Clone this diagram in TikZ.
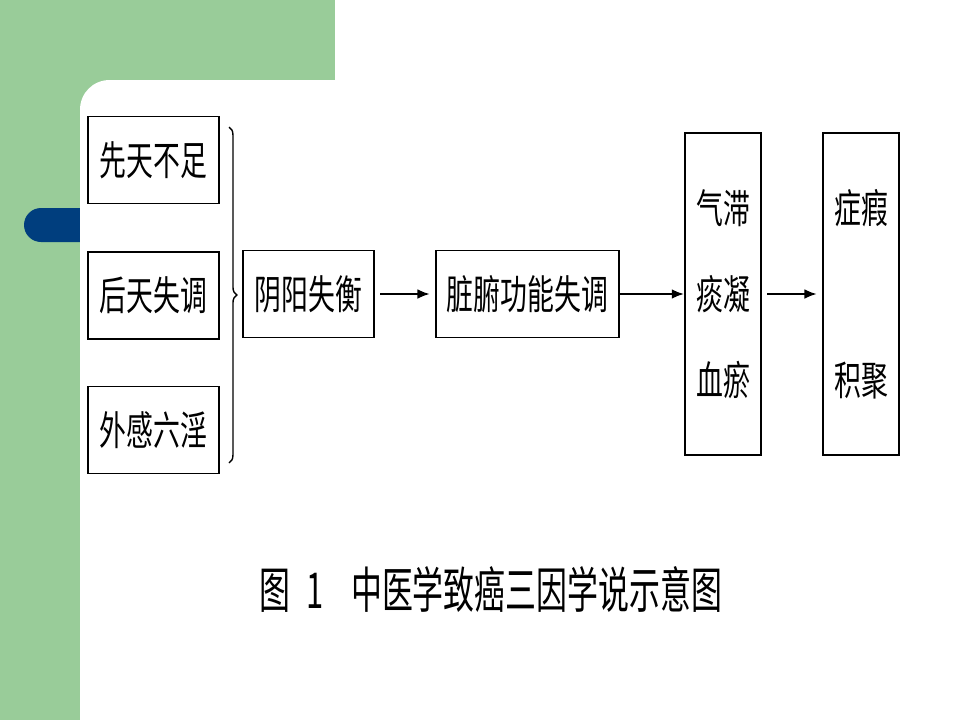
\documentclass[tikz,border=0pt]{standalone}
\usepackage{fontspec}
\usepackage{graphicx}
\usetikzlibrary{arrows.meta,decorations.pathreplacing}
\newfontfamily\cjk{Noto Sans CJK SC}
\definecolor{slidegreen}{RGB}{153,204,153}
\definecolor{slideblue}{RGB}{0,62,126}
\newcommand{\tallzi}[1]{\scalebox{1}[1.5]{#1}}

\begin{document}
\begin{tikzpicture}[
    x=0.02cm, y=-0.02cm,
    every node/.style={font=\cjk\fontsize{15.3pt}{49pt}\selectfont, inner sep=0pt},
    box/.style={draw, line width=1.1pt, minimum height=1.74cm, align=center},
    tallbox/.style={box, minimum width=1.52cm, minimum height=6.44cm},
    link/.style={line width=1.1pt, -{Latex[length=7pt,width=5.5pt]}}
]
\useasboundingbox (0,0) rectangle (960,720);
\fill[slidegreen] (0,0) rectangle (335,80);
\fill[slidegreen] (0,0) rectangle (120,720);
\fill[slideblue, rounded corners=0.34cm] (24,208) rectangle (110,242);
\fill[white] (80,720) -- (80,110) .. controls (80,93) and (93,80) .. (110,80)
    -- (960,80) -- (960,720) -- cycle;

\node[box, minimum width=2.62cm] (xiantian) at (153.5,160) {\tallzi{先天不足}};
\node[box, minimum width=2.62cm] (houtian) at (153.5,295.5) {\tallzi{后天失调}};
\node[box, minimum width=2.62cm] (waigan) at (153.5,430) {\tallzi{外感六淫}};
\node[box, minimum width=2.62cm] (yinyang) at (308.5,294) {\tallzi{阴阳失衡}};
\node[box, minimum width=3.66cm] (zangfu) at (527.5,294) {\tallzi{脏腑功能失调}};
\node[tallbox] (qizhi) at (723,294) {\tallzi{气滞}\\\tallzi{痰凝}\\\tallzi{血瘀}};
\node[tallbox] (zhengjia) at (861,294) {\tallzi{症瘕}\\[49pt]\tallzi{积聚}};

\coordinate (bracetop) at (229,127);
\coordinate (bracebot) at (229,463);
\draw[line width=0.8pt, decorate, decoration={brace, amplitude=4.5pt}] (bracetop) -- (bracebot);

\draw[link, shorten <=3pt, shorten >=3pt] (yinyang) -- (zangfu);
\draw[link] (zangfu) -- (qizhi);
\draw[link, shorten <=3pt, shorten >=3pt] (qizhi) -- (zhengjia);

\node[font=\cjk\fontsize{17.6pt}{20pt}\selectfont] (caption) at (491,589)
    {\scalebox{1}[1.6]{图\hspace{0.5em}1\hspace{0.9em}中医学致癌三因学说示意图}};
\end{tikzpicture}
\end{document}
